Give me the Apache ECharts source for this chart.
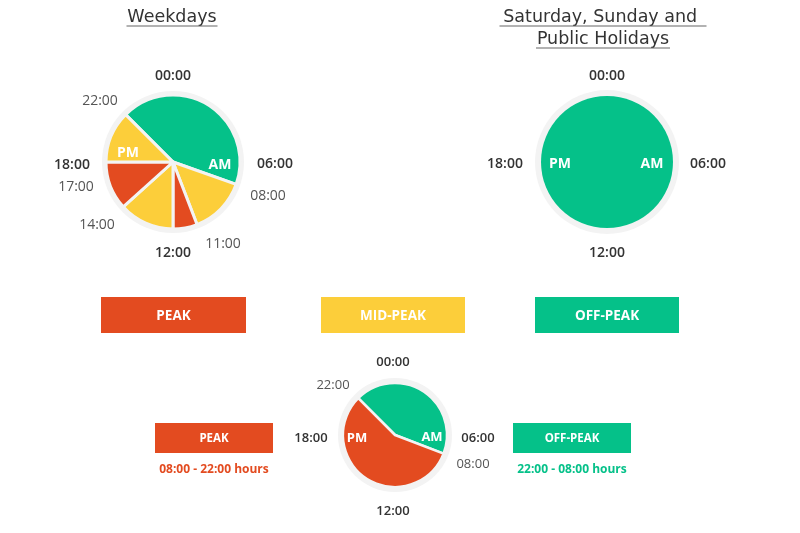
<!DOCTYPE html>
<html>
<head>
<meta charset="utf-8">
<script src="https://cdn.jsdelivr.net/npm/echarts@6/dist/echarts.min.js"></script>
<style>
html,body{margin:0;padding:0;background:#fff;}
#chart{width:800px;height:533px;}
</style>
</head>
<body>
<div id="chart"></div>
<script>
// ---- data ----
const periodNames = ['PEAK', 'MID-PEAK', 'OFF-PEAK'];
const weekdayPeriods = ['OFF-PEAK', 'MID-PEAK', 'PEAK', 'MID-PEAK', 'PEAK', 'MID-PEAK'];
const weekdayHours = [10.3, 3.3, 1.4, 3.2, 2.8, 3.0];
const weekendPeriods = ['OFF-PEAK'];
const weekendHours = [24];
const summaryPeriods = ['OFF-PEAK', 'PEAK'];
const summaryHours = [10.4, 13.6];
const weekdayTimeLabels = ['00:00', '22:00', '18:00', '17:00', '14:00', '12:00', '11:00', '08:00', '06:00'];
const weekendTimeLabels = ['00:00', '18:00', '06:00', '12:00'];
const summaryTimeLabels = ['00:00', '22:00', '18:00', '06:00', '08:00', '12:00'];
const summaryRanges = ['08:00 - 22:00 hours', '22:00 - 08:00 hours'];
const titles = ['Weekdays', 'Saturday, Sunday and ', 'Public Holidays'];

// ---- styles ----
const colors = { 'PEAK': '#E34B20', 'MID-PEAK': '#FCCE3A', 'OFF-PEAK': '#05C189' };
const ringColor = '#F3F3F3';
const FONT = '"Open Sans", sans-serif';
const DY = 1.5;

function ring(center, r) {
  return {
    type: 'pie', silent: true, center: center, radius: [0, r],
    label: { show: false }, labelLine: { show: false },
    itemStyle: { color: ringColor, borderWidth: 0 },
    emphasis: { disabled: true }, animation: false,
    data: [{ value: 1 }], z: 1
  };
}
function clock(center, r, names, values, startAngle, border) {
  return {
    type: 'pie', silent: true, center: center, radius: [0, r],
    startAngle: startAngle, clockwise: true,
    label: { show: false }, labelLine: { show: false },
    emphasis: { disabled: true }, animation: false,
    itemStyle: { borderColor: ringColor, borderWidth: border },
    data: values.map((v, i) => ({ value: v, name: names[i], itemStyle: { color: colors[names[i]] } })),
    z: 2
  };
}

function txt(text, x, y, size, weight, fill) {
  return { type: 'text', x: x, y: y, z: 10, silent: true,
    style: { text: text, fill: fill, font: weight + ' ' + size + 'px ' + FONT, align: 'center', verticalAlign: 'middle' } };
}
function boldLbl(t, x, y) { return txt(t, x, y + DY, 14, 600, '#333'); }
function greyLbl(t, x, y) { return txt(t, x, y + DY, 14, 400, '#555'); }
function ampm(t, x, y) { return txt(t, x, y + DY, 14, 700, '#fff'); }

const wdC = [173, 162], weC = [607, 162], smC = [395, 435];

// label positions (layout, not data)
const wdPos = [[173, 75, 1], [100, 100, 0], [72, 164, 1], [76, 186, 0], [97, 224, 0], [173, 252, 1], [223, 243, 0], [268, 195, 0], [275, 163, 1]];
const wePos = [[607, 75], [505, 163], [708, 163], [607, 252]];
const smPos = [[393, 361, 1], [333, 384, 0], [311, 437, 1], [478, 437, 1], [473, 463, 0], [393, 510, 1]];

const graphics = [];
weekdayTimeLabels.forEach((t, i) => {
  const p = wdPos[i];
  graphics.push(p[2] ? boldLbl(t, p[0], p[1]) : greyLbl(t, p[0], p[1]));
});
weekendTimeLabels.forEach((t, i) => graphics.push(boldLbl(t, wePos[i][0], wePos[i][1])));
summaryTimeLabels.forEach((t, i) => {
  const p = smPos[i];
  const el = p[2] ? txt(t, p[0], p[1] + DY, 13, 600, '#333') : txt(t, p[0], p[1] + DY, 13, 400, '#555');
  graphics.push(el);
});
graphics.push(ampm('PM', 128, 152), ampm('AM', 220, 164));
graphics.push(ampm('PM', 560, 163), ampm('AM', 652, 163));
graphics.push(txt('PM', 357, 437 + DY, 13, 700, '#fff'), txt('AM', 432, 436 + DY, 13, 700, '#fff'));

// titles with underline
const TFONT = '17.5px "DejaVu Sans", Verdana, sans-serif';
function title(t, cx, y, w) {
  graphics.push({ type: 'text', x: cx, y: y + DY, silent: true,
    style: { text: t, fill: '#333', font: TFONT, align: 'center', verticalAlign: 'middle' } });
  graphics.push({ type: 'line', silent: true,
    shape: { x1: cx - w / 2, y1: y + 10, x2: cx + w / 2, y2: y + 10 },
    style: { stroke: '#666', lineWidth: 1.2 } });
}
title(titles[0], 172, 16, 91);
title(titles[1], 603, 16, 207);
title(titles[2], 603, 38, 134);

// legend boxes
function box(label, x, y, w, h, size) {
  graphics.push({ type: 'rect', silent: true, shape: { x: x, y: y, width: w, height: h },
    style: { fill: colors[label] } });
  graphics.push(txt(label, x + w / 2, y + h / 2 + 1, size, 700, '#fff'));
}
box(periodNames[0], 101, 297, 145, 36, 13.5);
box(periodNames[1], 321, 297, 144, 36, 13.5);
box(periodNames[2], 535, 297, 144, 36, 13.5);
box(summaryPeriods[1], 155, 423, 118, 30, 11.5);
box(summaryPeriods[0], 513, 423, 118, 30, 11.5);
graphics.push(txt(summaryRanges[0], 214, 468 + DY, 12, 700, colors['PEAK']));
graphics.push(txt(summaryRanges[1], 572, 468 + DY, 12, 700, colors['OFF-PEAK']));

const chart = echarts.init(document.getElementById('chart'), null, { renderer: 'canvas' });
chart.setOption({
  backgroundColor: '#fff',
  animation: false,
  series: [
    ring(wdC, 71),
    clock(wdC, 67, weekdayPeriods, weekdayHours, 135, 3),
    ring(weC, 72),
    clock(weC, 66, weekendPeriods, weekendHours, 90, 0),
    ring(smC, 57),
    clock(smC, 52, summaryPeriods, summaryHours, 135, 2.5)
  ],
  graphic: graphics
});
</script>
</body>
</html>
